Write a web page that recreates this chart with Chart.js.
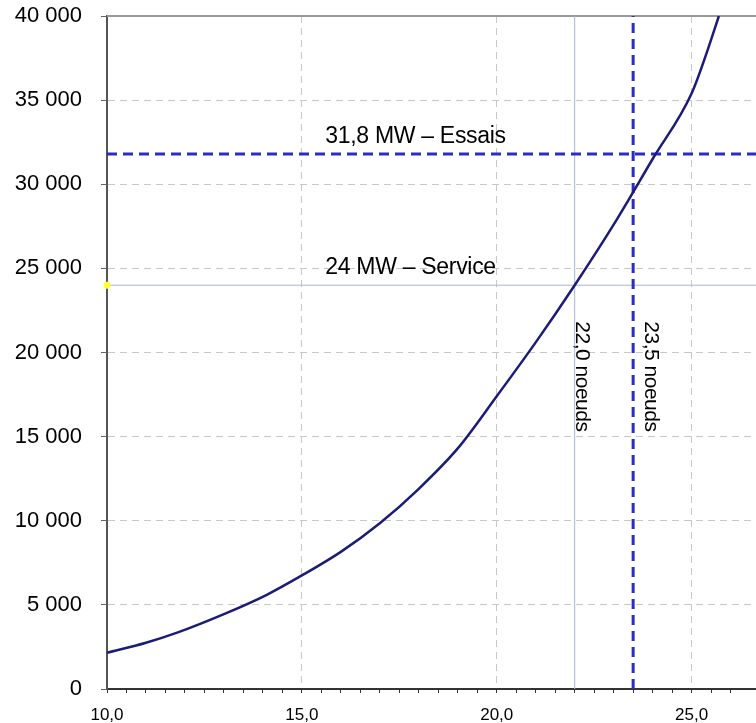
<!DOCTYPE html>
<html><head><meta charset="utf-8">
<script src="https://cdn.jsdelivr.net/npm/chart.js@4/dist/chart.umd.min.js"></script>
<style>html,body{margin:0;padding:0;background:#fff;}#wrap{width:756px;height:723px;position:relative;}</style>
</head><body><div id="wrap"><canvas id="c"></canvas></div>
<script>
// Speed (knots) vs power (kW)
const speedKnots = [10, 11, 11.8, 13, 14.1, 15, 16, 17, 18, 19, 20, 21, 22, 23, 24, 25, 25.4, 25.7];
const powerKW    = [2150, 2750, 3350, 4450, 5600, 6750, 8150, 9850, 11900, 14300, 17400, 20600, 24000, 27600, 31500, 35400, 37900, 40000];

// Reference levels
const powerLevelsKW   = [31800, 24000];
const powerLevelTexts = ['31,8 MW \u2013 Essais', '24 MW \u2013 Service'];
const speedLevels     = [22.0, 23.5];
const speedLevelTexts = ['22,0 noeuds', '23,5 noeuds'];

// Axes
const xMin = 10, xMax = 26.55;
const yMin = 0, yMax = 40000;
const xLabelValues = [10, 15, 20, 25];
const yTickValues = [0, 5000, 10000, 15000, 20000, 25000, 30000, 35000, 40000];

const FONT = '"Liberation Sans", Arial, sans-serif';
const DASH_BLUE = '#2b2bc8';
const THIN_BLUE = '#a9b3dc';

const annotPlugin = {
  id: 'annot',
  beforeDatasetsDraw(chart) {
    const {ctx, chartArea} = chart;
    ctx.save();
    ctx.strokeStyle = '#999';
    ctx.lineWidth = 2;
    ctx.beginPath();
    ctx.moveTo(chartArea.left, chartArea.top);
    ctx.lineTo(chart.width, chartArea.top);
    ctx.stroke();
    ctx.strokeStyle = '#333';
    ctx.beginPath();
    ctx.moveTo(chartArea.right - 1, chartArea.bottom);
    ctx.lineTo(chart.width, chartArea.bottom);
    ctx.stroke();
    ctx.restore();
  },
  afterDatasetsDraw(chart) {
    const {ctx, scales: {x, y}} = chart;
    ctx.save();
    ctx.fillStyle = '#000';
    ctx.font = '23px ' + FONT;
    ctx.textAlign = 'left';
    ctx.textBaseline = 'alphabetic';
    try { ctx.letterSpacing = '-0.3px'; } catch (e) {}
    powerLevelsKW.forEach((v, i) => {
      ctx.fillText(powerLevelTexts[i], x.getPixelForValue(15.6), y.getPixelForValue(v) - 11);
    });
    ctx.font = '21px ' + FONT;
    try { ctx.letterSpacing = '-0.5px'; } catch (e) {}
    const offs = [1, 12];
    speedLevels.forEach((v, i) => {
      ctx.save();
      ctx.translate(x.getPixelForValue(v) + offs[i], y.getPixelForValue(21850));
      ctx.rotate(Math.PI / 2);
      ctx.fillText(speedLevelTexts[i], 0, 0);
      ctx.restore();
    });
    ctx.restore();
  }
};

const hLine = (v) => [{x: xMin, y: v}, {x: 27, y: v}];
const vLine = (v) => [{x: v, y: yMin}, {x: v, y: yMax}];

new Chart(document.getElementById('c'), {
  type: 'line',
  data: {
    datasets: [
      {
        data: speedKnots.map((s, i) => ({x: s, y: powerKW[i]})),
        borderColor: '#1c1c78', borderWidth: 2.5, pointRadius: 0,
        cubicInterpolationMode: 'monotone', order: 0
      },
      { data: hLine(powerLevelsKW[0]), borderColor: DASH_BLUE, borderWidth: 3, borderDash: [10, 6], pointRadius: 0, clip: false, order: 1 },
      { data: hLine(powerLevelsKW[1]), borderColor: THIN_BLUE, borderWidth: 1, pointRadius: [3.5, 0],
        pointBackgroundColor: '#ffff33', pointBorderWidth: 0, clip: false, order: 2 },
      { data: vLine(speedLevels[0]), borderColor: THIN_BLUE, borderWidth: 1, pointRadius: 0, order: 2 },
      { data: vLine(speedLevels[1]), borderColor: DASH_BLUE, borderWidth: 3, borderDash: [10, 6], pointRadius: 0, order: 1 }
    ]
  },
  options: {
    responsive: true, maintainAspectRatio: false, animation: false,
    layout: {padding: {top: 16, right: 0, bottom: 0, left: 0}},
    plugins: {legend: {display: false}, tooltip: {enabled: false}},
    scales: {
      x: {
        type: 'linear', min: xMin, max: xMax,
        afterFit: (s) => { s.height = 34; s.paddingLeft = 0; s.paddingRight = 0; },
        ticks: {
          stepSize: 0.5, autoSkip: false, maxRotation: 0, color: '#000', padding: 12,
          font: {family: FONT, size: 17},
          callback: (v) => xLabelValues.includes(v) ? v.toFixed(1).replace('.', ',') : ''
        },
        grid: {
          color: (c) => (c.tick && c.tick.value % 5 === 0 && c.tick.value !== xMin) ? '#c8c8c8' : 'rgba(0,0,0,0)',
          tickColor: (c) => (c.tick && Math.abs(c.tick.value * 2 - Math.round(c.tick.value * 2)) < 1e-9) ? '#333' : 'rgba(0,0,0,0)',
          tickLength: 4, lineWidth: 1
        },
        border: {display: true, color: '#333', width: 2, dash: [7, 5]}
      },
      y: {
        type: 'linear', min: yMin, max: yMax,
        afterFit: (s) => { s.width = 107; s.paddingTop = 0; s.paddingBottom = 0; },
        afterBuildTicks: (s) => { s.ticks = yTickValues.map(v => ({value: v})); },
        ticks: {
          color: '#000', padding: 19, font: {family: FONT, size: 22},
          callback: (v) => v === 0 ? '0' : String(v).replace(/\B(?=(\d{3})+(?!\d))/g, ' ')
        },
        grid: {
          color: (c) => (c.tick && c.tick.value !== yMin && c.tick.value !== yMax) ? '#c8c8c8' : 'rgba(0,0,0,0)',
          tickColor: '#666', tickLength: 6, lineWidth: 1
        },
        border: {display: true, color: '#555', width: 2, dash: [7, 5]}
      }
    }
  },
  plugins: [annotPlugin]
});
</script>
</body></html>
